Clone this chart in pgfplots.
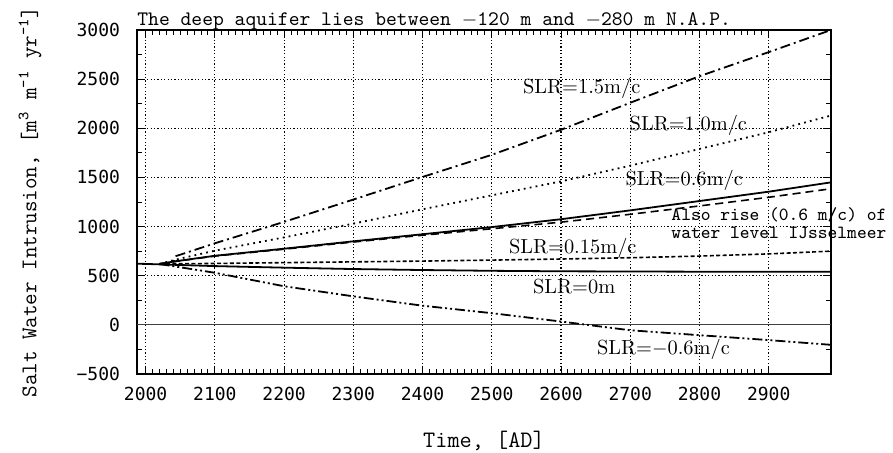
\documentclass[border=0pt]{standalone}
\usepackage{fontspec}
\usepackage{pgfplots}
\pgfplotsset{compat=1.18}
\newfontfamily\tickfont{DejaVu Sans Mono}

\begin{document}
\begin{tikzpicture}
\useasboundingbox (-68.5pt,-39pt) rectangle (378pt,187pt);
\begin{axis}[
    scale only axis,
    width=347pt, height=172pt,
    xmin=1987.5, xmax=2990, ymin=-500, ymax=3000,
    clip=false,
    xtick={2000,2100,...,2900},
    xticklabels={2000,2100,2200,2300,2400,2500,2600,2700,2800,2900},
    ytick={-500,0,...,3000},
    yticklabels={−500,0,500,1000,1500,2000,2500,3000},
    minor x tick num=9, minor y tick num=1,
    tick align=inside, tick pos=both,
    major tick length=4pt, minor tick length=2.5pt,
    tick style={black, line width=0.5pt},
    axis line style={black, line width=0.9pt},
    grid=major,
    grid style={black, line width=0.6pt, dash pattern=on 0.6pt off 1.1pt},
    tick label style={font=\tickfont\fontsize{9}{10}\selectfont},
    xticklabel style={yshift=-3pt},
    yticklabel style={xshift=-5pt},
    xlabel={Time, [AD]},
    ylabel={Salt Water Intrusion, [m\textsuperscript{3} m\textsuperscript{-1} yr\textsuperscript{-1}]},
    xlabel style={font=\ttfamily\fontsize{11.8}{13}\selectfont, at={(axis description cs:0.5,-0.195)}, anchor=center},
    ylabel style={font=\ttfamily\fontsize{11.2}{13}\selectfont, at={(axis description cs:-0.154,0.5)}, anchor=center},
]
% zero line
\addplot[black!75, line width=0.6pt] coordinates {(1987.5,0) (2990,0)};

% SLR = 0
\addplot[black, line width=0.9pt] coordinates {
(1987.5,622) (2000,620) (2100,598) (2200,582) (2300,568) (2400,558)
(2500,550) (2600,545) (2700,543) (2800,541) (2900,540) (2990,540)};

% SLR = 0.15
\addplot[black, line width=0.8pt, dash pattern=on 2pt off 1.2pt] coordinates {
(2020,620) (2100,625) (2200,633) (2300,641) (2400,649) (2500,659)
(2600,670) (2700,683) (2800,700) (2900,722) (2990,750)};

% SLR = 0.6
\addplot[black, line width=0.9pt] coordinates {
(2020,620) (2044,648) (2100,703) (2200,775) (2300,850) (2400,922)
(2500,995) (2600,1075) (2700,1165) (2800,1260) (2900,1355) (2990,1450)};

% also rise IJsselmeer
\addplot[black, line width=0.8pt, dash pattern=on 4pt off 2.5pt] coordinates {
(2020,620) (2044,646) (2100,700) (2200,770) (2300,843) (2400,912)
(2500,978) (2600,1045) (2700,1125) (2800,1210) (2900,1298) (2990,1385)};

% SLR = 1.0
\addplot[black, line width=0.9pt, dash pattern=on 0.9pt off 2.1pt] coordinates {
(2020,620) (2044,665) (2100,755) (2200,890) (2300,1030) (2400,1176)
(2500,1318) (2600,1460) (2700,1620) (2800,1790) (2900,1960) (2990,2130)};

% SLR = 1.5
\addplot[black, line width=0.9pt, dash pattern=on 5pt off 2pt on 1pt off 2pt] coordinates {
(2020,620) (2040,640) (2044,700) (2100,830) (2200,1048) (2300,1275)
(2400,1505) (2500,1730) (2600,1985) (2700,2260) (2800,2530) (2900,2775) (2990,3000)};

% SLR = -0.6
\addplot[black, line width=0.9pt, dash pattern=on 5pt off 1.5pt on 1pt off 1.5pt on 1pt off 1.5pt] coordinates {
(2020,618) (2030,608) (2100,530) (2200,393) (2300,290) (2400,195)
(2500,119) (2600,34) (2700,-55) (2800,-105) (2900,-155) (2990,-203)};

\node[anchor=base west, inner sep=0pt, yshift=2.5pt, font=\ttfamily\fontsize{10.3}{12}\selectfont]
  at (axis description cs:0,1) {The deep aquifer lies between $-$120 m and $-$280 m N.A.P.};

\node[inner sep=0pt, font=\fontsize{10.2}{12}\selectfont] at (axis cs:2630,2404) {SLR=1.5m/c};
\node[inner sep=0pt, font=\fontsize{10.2}{12}\selectfont] at (axis cs:2784,2028) {SLR=1.0m/c};
\node[inner sep=0pt, font=\fontsize{10.2}{12}\selectfont] at (axis cs:2778,1471) {SLR=0.6m/c};
\node[inner sep=0pt, font=\fontsize{10.2}{12}\selectfont] at (axis cs:2617,781) {SLR=0.15m/c};
\node[inner sep=0pt, font=\fontsize{10.2}{12}\selectfont] at (axis cs:2619,385) {SLR=0m};
\node[inner sep=0pt, font=\fontsize{10.2}{12}\selectfont] at (axis cs:2748,-254) {SLR=$-$0.6m/c};
\node[anchor=west, align=left, inner sep=0pt, font=\ttfamily\fontsize{9.3}{9}\selectfont]
  at (axis cs:2759,1034) {Also rise (0.6 m/c) of\\water level IJsselmeer};
\end{axis}
\end{tikzpicture}
\end{document}
